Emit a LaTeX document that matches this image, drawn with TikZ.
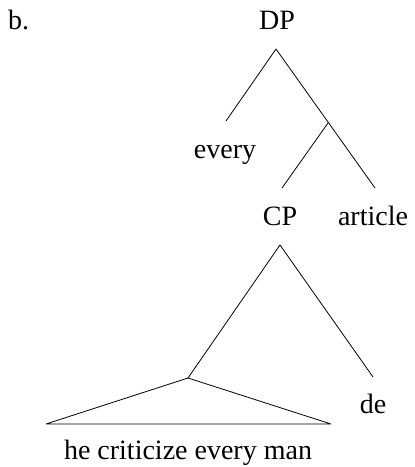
\documentclass[tikz,border=0pt]{standalone}
\usepackage{fontspec}
\setmainfont{Liberation Serif}
\usetikzlibrary{positioning}
\tikzset{
    lbl/.style={inner sep=0pt,anchor=base,font=\fontsize{28}{32}\selectfont},
    branch/.style={line width=0.8pt,line cap=round,line join=round}
}

\begin{document}
\begin{tikzpicture}[x=1pt,y=-1pt]
    \useasboundingbox (0,0) rectangle (415,467);
    % labels of the tree
    \node[lbl,anchor=base west] (ex) at (8,29) {b.};
    \node[lbl] (dp) at (277,29) {DP};
    \node[lbl] (every) at (225,158) {every};
    \node[lbl] (cp) at (280,225) {CP};
    \node[lbl] (article) at (373,225) {article};
    \node[lbl] (de) at (373,413) {de};
    \node[lbl] (clause) at (188,459) {he criticize every man};
    % branch points
    \coordinate (dp-top) at (276,49);
    \coordinate (every-top) at (226,121);
    \coordinate (dbar) at (328,123);
    \coordinate (cp-end) at (282,188);
    \coordinate (article-top) at (375,188);
    \coordinate (cp-top) at (280,245);
    \coordinate (de-top) at (373,377);
    \coordinate (ip) at (188,378);
    \coordinate (tri-l) at (46,424);
    \coordinate (tri-r) at (331,424);
    % draw the branches
    \draw[branch] (every-top) -- (dp-top) -- (article-top);
    \draw[branch] (dbar) -- (cp-end);
    \draw[branch] (ip) -- (cp-top) -- (de-top);
    % triangle over the clause
    \draw[branch] (ip) -- (tri-l) -- (tri-r) -- cycle;
\end{tikzpicture}
\end{document}
